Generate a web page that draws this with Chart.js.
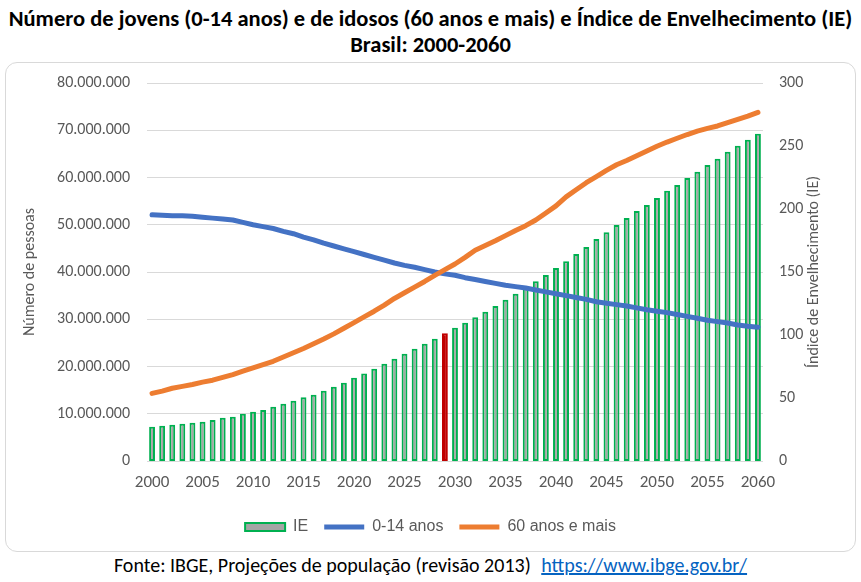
<!DOCTYPE html>
<html lang="pt-BR">
<head>
<meta charset="utf-8">
<script src="https://cdn.jsdelivr.net/npm/chart.js@4.4.1/dist/chart.umd.min.js"></script>
<style>
  html, body { margin: 0; padding: 0; background: #fff; }
  body { width: 861px; height: 582px; position: relative; overflow: hidden; font-family: Carlito, "Liberation Sans", Arial, sans-serif; }
  #titulo { position: absolute; left: 0; top: 6px; width: 861px; text-align: center; font-weight: bold; font-size: 22.5px; line-height: 26px; color: #000; }
  #caixa { position: absolute; left: 5px; top: 62px; width: 851px; height: 490px; box-sizing: border-box; border: 1px solid #D9D9D9; border-radius: 12px; }
  #fonte { position: absolute; left: 0; top: 553px; width: 861px; text-align: center; font-size: 20px; line-height: 24px; color: #000; }
  #fonte a { color: #0563C1; text-decoration: underline; margin-left: 6px; }
</style>
</head>
<body>
<div id="titulo">Número de jovens (0-14 anos) e de idosos (60 anos e mais) e Índice de Envelhecimento (IE)<br>Brasil: 2000-2060</div>
<div id="caixa"><canvas id="grafico"></canvas></div>
<div id="fonte">Fonte: IBGE, Projeções de população (revisão 2013) <a href="https://www.ibge.gov.br/">https://www.ibge.gov.br/</a></div>
<script>
// categorias (anos)
const anos = ['2000','2001','2002','2003','2004','2005','2006','2007','2008','2009',
  '2010','2011','2012','2013','2014','2015','2016','2017','2018','2019',
  '2020','2021','2022','2023','2024','2025','2026','2027','2028','2029',
  '2030','2031','2032','2033','2034','2035','2036','2037','2038','2039',
  '2040','2041','2042','2043','2044','2045','2046','2047','2048','2049',
  '2050','2051','2052','2053','2054','2055','2056','2057','2058','2059','2060'];

// Índice de Envelhecimento (eixo da direita)
const ie = [27.2, 28.0, 28.8, 29.6, 30.4, 31.2, 32.5, 34.3, 35.1, 37.5,
  39.1, 40.4, 43.1, 45.4, 47.8, 50.5, 52.6, 55.8, 58.9, 62.1,
  66.1, 69.5, 73.2, 77.2, 81.1, 85.1, 89.1, 93.0, 97.0, 101.3,
  105.7, 109.7, 114.0, 118.4, 123.0, 127.9, 132.7, 137.9, 142.7, 147.6,
  153.1, 158.6, 164.2, 169.8, 176.1, 181.5, 187.3, 192.9, 198.4, 203.2,
  208.8, 214.4, 219.1, 224.7, 229.5, 235.0, 239.8, 245.4, 250.2, 254.9, 259.7];

// população de 0-14 anos
const jovens = [52100000, 52000000, 51900000, 51900000, 51800000, 51600000, 51400000, 51200000, 51000000, 50500000,
  50000000, 49600000, 49200000, 48600000, 48100000, 47400000, 46800000, 46100000, 45500000, 44900000,
  44300000, 43700000, 43100000, 42500000, 41900000, 41400000, 41000000, 40500000, 40000000, 39600000,
  39300000, 38800000, 38400000, 38000000, 37600000, 37200000, 36900000, 36600000, 36200000, 35800000,
  35400000, 35000000, 34600000, 34200000, 33700000, 33400000, 33100000, 32800000, 32400000, 32000000,
  31700000, 31400000, 31000000, 30600000, 30200000, 29800000, 29500000, 29200000, 28800000, 28500000, 28300000];

// população de 60 anos e mais
const idosos = [14300000, 14800000, 15400000, 15800000, 16200000, 16700000, 17100000, 17700000, 18300000, 19000000,
  19700000, 20400000, 21100000, 22000000, 22900000, 23800000, 24800000, 25800000, 26900000, 28100000,
  29300000, 30500000, 31700000, 33000000, 34400000, 35600000, 36800000, 38000000, 39300000, 40500000,
  41700000, 43100000, 44600000, 45600000, 46600000, 47700000, 48800000, 49800000, 51000000, 52500000,
  54000000, 55900000, 57400000, 58900000, 60200000, 61500000, 62700000, 63600000, 64600000, 65600000,
  66600000, 67500000, 68300000, 69100000, 69800000, 70400000, 70900000, 71600000, 72300000, 73000000, 73800000];

// ano em que o IE passa de 100 (barra em vermelho)
const anoDestaque = '2029';

const cinza = '#595959';

function milhar(v) {
  return String(v).replace(/\B(?=(\d{3})+(?!\d))/g, '.');
}

// título do eixo direito, lido de baixo para cima
const tituloDireita = {
  id: 'tituloDireita',
  afterDraw(chart) {
    const s = chart.scales.y1;
    const c = chart.ctx;
    c.save();
    c.translate(s.right - 41, (s.top + s.bottom) / 2);
    c.rotate(-Math.PI / 2);
    c.fillStyle = cinza;
    c.font = '16px Carlito, "Liberation Sans", Arial, sans-serif';
    c.textAlign = 'center';
    c.textBaseline = 'middle';
    c.fillText('Índice de Envelhecimento (IE)', 0, 0);
    c.restore();
  }
};

// largura fixa dos eixos verticais, sem folga extra acima da área do gráfico
function eixoVertical(largura) {
  return s => {
    s.width = largura;
    s.paddingTop = 10;
    s.paddingBottom = 10;
  };
}

const ctx = document.getElementById('grafico').getContext('2d');
new Chart(ctx, {
  type: 'bar',
  data: {
    labels: anos,
    datasets: [{
      type: 'bar',
      label: 'IE',
      data: ie,
      yAxisID: 'y1',
      backgroundColor: anos.map(a => a === anoDestaque ? '#C00000' : '#A5A5A5'),
      borderColor: anos.map(a => a === anoDestaque ? '#C00000' : '#00B050'),
      borderWidth: 2,
      borderSkipped: false,
      barPercentage: 0.58,
      categoryPercentage: 1,
      order: 2
    }, {
      type: 'line',
      label: '0-14 anos',
      data: jovens,
      yAxisID: 'y',
      borderColor: '#4472C4',
      backgroundColor: '#4472C4',
      borderWidth: 5,
      borderCapStyle: 'round',
      borderJoinStyle: 'round',
      pointRadius: 0,
      order: 1
    }, {
      type: 'line',
      label: '60 anos e mais',
      data: idosos,
      yAxisID: 'y',
      borderColor: '#ED7D31',
      backgroundColor: '#ED7D31',
      borderWidth: 5,
      borderCapStyle: 'round',
      borderJoinStyle: 'round',
      pointRadius: 0,
      order: 0
    }]
  },
  options: {
    responsive: true,
    maintainAspectRatio: false,
    animation: false,
    layout: { padding: { top: 20, bottom: 6, left: 0, right: 0 } },
    font: { family: 'Carlito, "Liberation Sans", Arial, sans-serif' },
    plugins: {
      tooltip: { enabled: false },
      legend: {
        position: 'bottom',
        labels: {
          color: cinza,
          font: { size: 16 },
          usePointStyle: true,
          pointStyleWidth: 40,
          boxHeight: 8,
          padding: 16,
          sort: (a, b) => a.datasetIndex - b.datasetIndex,
          generateLabels(chart) {
            const itens = Chart.defaults.plugins.legend.labels.generateLabels(chart);
            itens.forEach(it => { it.pointStyle = it.datasetIndex === 0 ? 'rect' : 'line'; });
            return itens;
          }
        }
      }
    },
    scales: {
      x: {
        grid: { display: false, drawTicks: false },
        border: { display: false },
        ticks: {
          autoSkip: false,
          maxRotation: 0,
          padding: 12,
          color: cinza,
          font: { size: 17 },
          callback: (v, i) => i % 5 === 0 ? anos[i] : ''
        },
        afterFit: s => { s.height = 42; }
      },
      y: {
        position: 'left',
        min: 0,
        max: 80000000,
        grid: { color: '#D9D9D9', drawTicks: false },
        border: { display: false },
        ticks: { stepSize: 10000000, padding: 17, color: cinza, font: { size: 16 }, callback: v => milhar(v) },
        title: { display: true, text: 'Número de pessoas', color: cinza, font: { size: 16 }, padding: { top: 14 } },
        afterFit: eixoVertical(141)
      },
      y1: {
        position: 'right',
        min: 0,
        max: 300,
        grid: { display: false, drawTicks: false },
        border: { display: false },
        ticks: { stepSize: 50, padding: 16, color: cinza, font: { size: 16 } },
        afterFit: eixoVertical(92)
      }
    }
  },
  plugins: [tituloDireita]
});
</script>
</body>
</html>
